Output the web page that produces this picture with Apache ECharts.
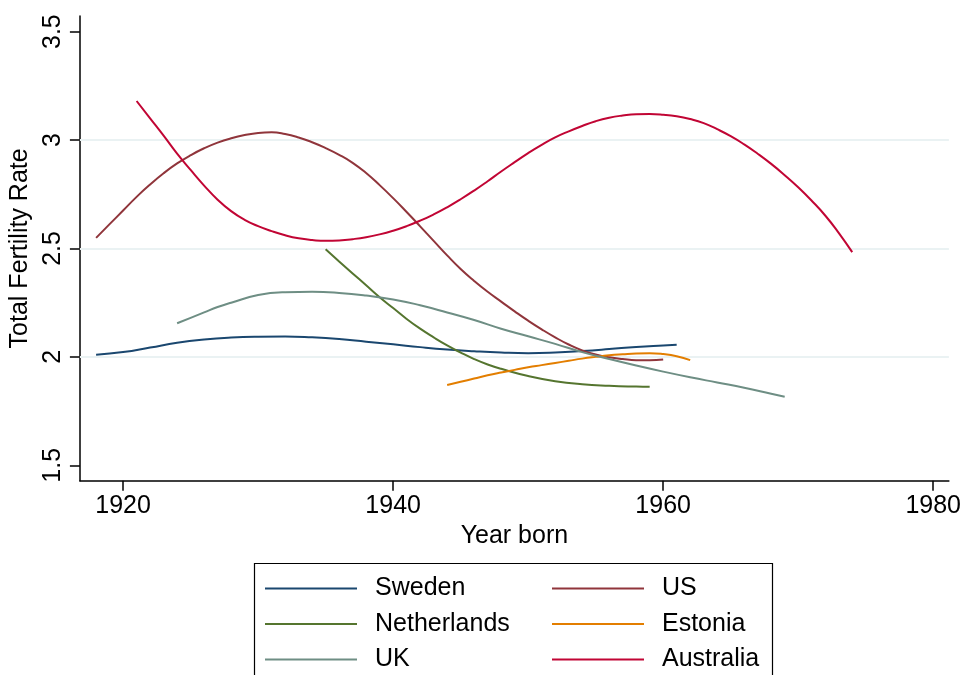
<!DOCTYPE html>
<html>
<head>
<meta charset="utf-8">
<script src="https://cdn.jsdelivr.net/npm/echarts@6/dist/echarts.min.js"></script>
<style>
  html, body { margin: 0; padding: 0; background: #fff; }
  #main { width: 964px; height: 675px; }
</style>
</head>
<body>
<div id="main"></div>
<script>
// cohort total fertility rate by year born
var swedenYears = [1918,1920,1922,1924,1926,1928,1930,1932,1934,1936,1938,1940,1942,1944,1946,1948,1950,1952,1954,1956,1958,1960,1961];
var swedenTfr = [2.01,2.022,2.043,2.065,2.08,2.089,2.093,2.094,2.09,2.082,2.07,2.058,2.045,2.034,2.026,2.02,2.017,2.02,2.027,2.036,2.046,2.053,2.056];

var usYears = [1918,1919,1920,1921,1922,1923,1924,1925,1926,1927,1928,1929,1930,1931,1932,1933,1934,1935,1936,1937,1938,1939,1940,1941,1942,1943,1944,1945,1946,1947,1948,1949,1950,1951,1952,1953,1954,1955,1956,1957,1958,1959,1960];
var usTfr = [2.549,2.612,2.675,2.738,2.795,2.847,2.892,2.93,2.962,2.988,3.008,3.023,3.033,3.036,3.028,3.012,2.99,2.963,2.932,2.895,2.848,2.792,2.732,2.668,2.602,2.535,2.468,2.405,2.35,2.30,2.255,2.21,2.167,2.127,2.09,2.057,2.03,2.011,1.998,1.99,1.985,1.985,1.988];

var nlYears = [1935,1936,1937,1938,1939,1940,1941,1942,1943,1944,1945,1946,1947,1948,1950,1952,1954,1956,1958,1959];
var nlTfr = [2.496,2.44,2.385,2.33,2.275,2.225,2.175,2.13,2.09,2.053,2.02,1.99,1.965,1.945,1.912,1.888,1.874,1.867,1.863,1.862];

var estYears = [1944,1945,1946,1947,1948,1949,1950,1951,1952,1953,1954,1955,1956,1957,1958,1959,1960,1961,1962];
var estTfr = [1.870,1.885,1.90,1.915,1.928,1.94,1.952,1.962,1.972,1.982,1.992,2.0,2.007,2.012,2.016,2.017,2.013,2.003,1.985];

var ukYears = [1924,1925,1926,1927,1928,1930,1932,1934,1936,1938,1940,1942,1944,1946,1948,1950,1952,1954,1956,1958,1960,1962,1964,1966,1968,1969];
var ukTfr = [2.155,2.18,2.205,2.23,2.25,2.285,2.298,2.30,2.295,2.283,2.265,2.238,2.205,2.17,2.13,2.095,2.06,2.022,1.99,1.96,1.932,1.906,1.882,1.858,1.83,1.816];

var ausYears = [1921,1922,1923,1924,1925,1926,1927,1928,1929,1930,1931,1932,1933,1934,1935,1936,1937,1938,1939,1940,1941,1942,1943,1944,1945,1946,1947,1948,1949,1950,1951,1952,1953,1954,1955,1956,1957,1958,1959,1960,1961,1962,1963,1964,1965,1966,1967,1968,1969,1970,1971,1972,1973,1974];
var ausTfr = [3.18,3.10,3.02,2.937,2.862,2.79,2.725,2.672,2.632,2.603,2.58,2.561,2.547,2.539,2.535,2.537,2.543,2.552,2.565,2.582,2.603,2.628,2.657,2.69,2.727,2.767,2.81,2.855,2.898,2.94,2.978,3.012,3.04,3.065,3.087,3.103,3.113,3.119,3.12,3.117,3.11,3.097,3.078,3.05,3.018,2.98,2.937,2.89,2.838,2.782,2.72,2.652,2.572,2.483];

var xTicks = [1920, 1940, 1960, 1980];
var yTicks = [1.5, 2, 2.5, 3, 3.5];
var gridValues = [2, 2.5, 3];

var font = 'Liberation Sans, Arial, Helvetica, sans-serif';
var fs = 25;

function pairs(xs, ys) {
  var out = [];
  for (var i = 0; i < xs.length; i++) out.push([xs[i], ys[i]]);
  return out;
}

function lineSeries(name, color, xs, ys) {
  return {
    name: name,
    type: 'line',
    z: 5,
    data: pairs(xs, ys),
    smooth: 0.5,
    showSymbol: false,
    symbol: 'none',
    animation: false,
    lineStyle: { color: color, width: 2 },
    itemStyle: { color: color }
  };
}

var chart = echarts.init(document.getElementById('main'), null, { renderer: 'canvas' });

var series = [
  // light gridlines, kept under the curves
  {
    name: 'grid',
    type: 'line',
    z: 1,
    data: [],
    silent: true,
    animation: false,
    markLine: {
      silent: true,
      z: 1,
      symbol: 'none',
      label: { show: false },
      lineStyle: { color: '#eaf2f3', width: 2, type: 'solid' },
      data: gridValues.map(function (v) { return { yAxis: v }; })
    }
  },
  lineSeries('Sweden', '#1a476f', swedenYears, swedenTfr),
  lineSeries('US', '#90353b', usYears, usTfr),
  lineSeries('Netherlands', '#55752f', nlYears, nlTfr),
  lineSeries('Estonia', '#e37e00', estYears, estTfr),
  lineSeries('UK', '#6e8e84', ukYears, ukTfr),
  lineSeries('Australia', '#c10534', ausYears, ausTfr)
];

// one legend per entry so the two columns line up like Stata's
function legendItem(name, left, top) {
  return {
    data: [name],
    left: left,
    top: top,
    itemWidth: 92,
    itemHeight: 2,
    icon: 'rect',
    selectedMode: false,
    textStyle: { fontFamily: font, fontSize: fs, color: '#000', lineHeight: 24, padding: [0, 0, 0, 13] }
  };
}

var option = {
  backgroundColor: '#fff',
  animation: false,
  grid: { left: 78.7, right: 15, top: 16, bottom: 194.3, containLabel: false },
  xAxis: {
    type: 'value',
    min: 1916.8,
    max: 1981.16,
    name: 'Year born',
    nameLocation: 'middle',
    nameGap: 43,
    nameTextStyle: { fontFamily: font, fontSize: fs, color: '#000' },
    axisLine: { show: true, onZero: false, lineStyle: { color: '#000', width: 1.5 } },
    axisTick: { show: true, length: 10, customValues: xTicks, lineStyle: { color: '#000', width: 1.5 } },
    axisLabel: {
      customValues: xTicks,
      formatter: function (v) { return String(v); },
      fontFamily: font, fontSize: fs, color: '#000', margin: 13
    },
    splitLine: { show: false }
  },
  yAxis: {
    type: 'value',
    min: 1.429,
    max: 3.572,
    name: 'Total Fertility Rate',
    nameLocation: 'middle',
    nameGap: 43,
    nameRotate: 90,
    nameTextStyle: { fontFamily: font, fontSize: fs, color: '#000' },
    axisLine: { show: true, onZero: false, lineStyle: { color: '#000', width: 1.5 } },
    axisTick: { show: true, length: 10, customValues: yTicks, lineStyle: { color: '#000', width: 1.5 } },
    axisLabel: { customValues: yTicks, rotate: 90, fontFamily: font, fontSize: fs, color: '#000', margin: 14 },
    splitLine: { show: false }
  },
  legend: [
    legendItem('Sweden', 260, 571),
    legendItem('Netherlands', 260, 606.5),
    legendItem('UK', 260, 642),
    legendItem('US', 547, 571),
    legendItem('Estonia', 547, 606.5),
    legendItem('Australia', 547, 642)
  ],
  graphic: [
    {
      type: 'rect',
      left: 252,
      top: 561,
      shape: { width: 518, height: 140 },
      style: { fill: 'none', stroke: '#000', lineWidth: 1.2 },
      silent: true
    }
  ],
  series: series
};

chart.setOption(option);
</script>
</body>
</html>
